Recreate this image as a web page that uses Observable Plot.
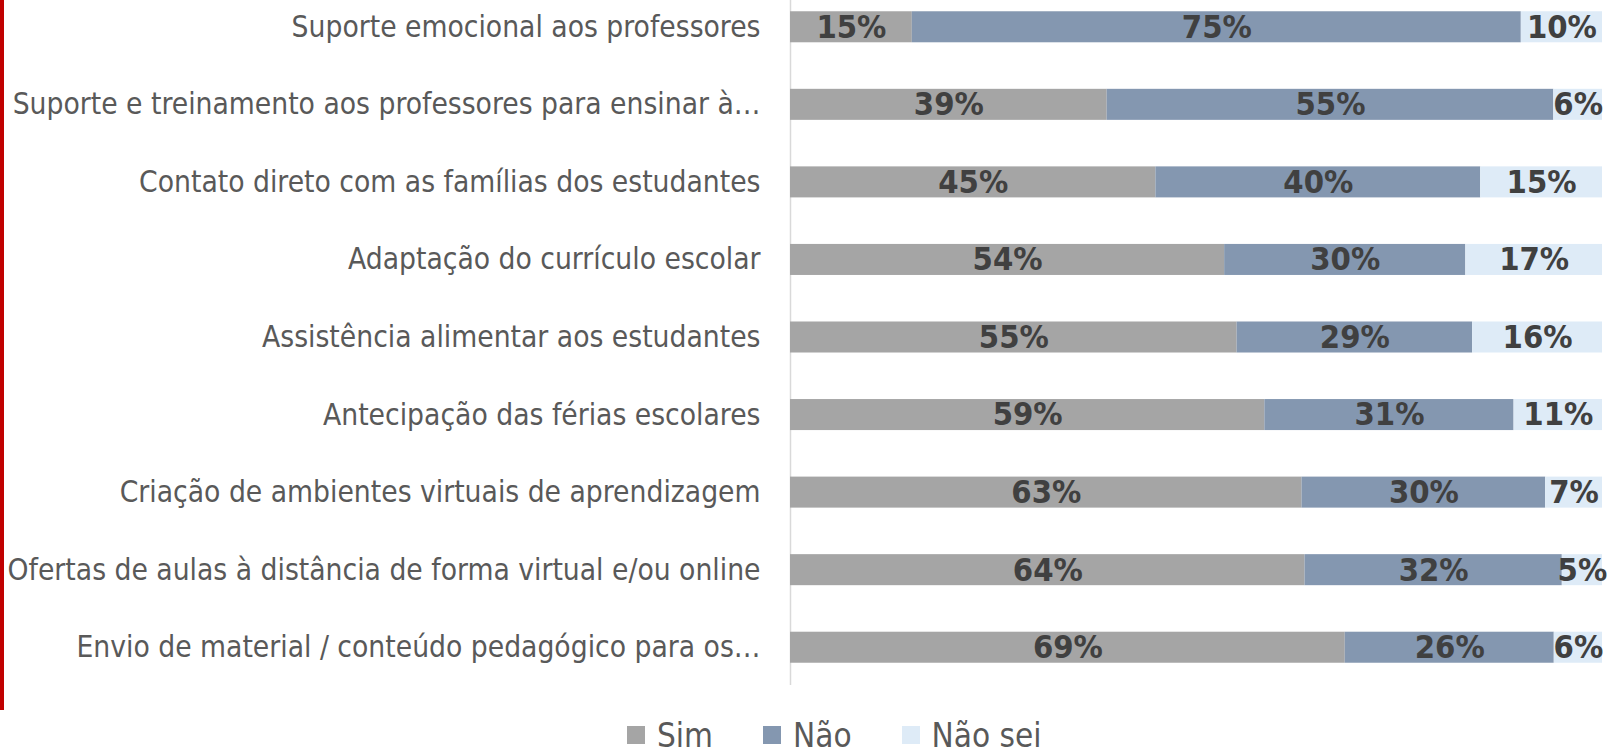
<!DOCTYPE html>
<html>
<head>
<meta charset="utf-8">
<script src="https://cdn.jsdelivr.net/npm/d3@7"></script>
<script src="https://cdn.jsdelivr.net/npm/@observablehq/plot@0.6"></script>
<style>
  body { margin: 0; background: #fff; }
  #wrap { position: relative; width: 1614px; height: 754px; background: #fff; }
  #redline { position: absolute; left: 0; top: 0; width: 4px; height: 710px; background: #c00000; }
  #chart { position: absolute; left: 0; top: 0; }
  #legend { position: absolute; left: 627px; top: 718px; height: 34px; display: flex; align-items: center; color: #595959; line-height: 1; }
  .item { display: flex; align-items: center; margin-right: 50px; }
  .sw { width: 18px; height: 18px; margin-right: 12px; }
</style>
</head>
<body>
<div id="wrap">
  <div id="redline"></div>
  <div id="chart"></div>
  <div id="legend"></div>
</div>
<script>
const categories = [
  "Suporte emocional aos professores",
  "Suporte e treinamento aos professores para ensinar à…",
  "Contato direto com as famílias dos estudantes",
  "Adaptação do currículo escolar",
  "Assistência alimentar aos estudantes",
  "Antecipação das férias escolares",
  "Criação de ambientes virtuais de aprendizagem",
  "Ofertas de aulas à distância de forma virtual e/ou online",
  "Envio de material / conteúdo pedagógico para os…"
];
const series = ["Sim", "Não", "Não sei"];
const sim    = [15, 39, 45, 54, 55, 59, 63, 64, 69];
const nao    = [75, 55, 40, 30, 29, 31, 30, 32, 26];
const naoSei = [10,  6, 15, 17, 16, 11,  7,  5,  6];
const colors = ["#a5a5a5", "#8497b0", "#deebf7"];

const seriesValues = [sim, nao, naoSei];
const data = [];
categories.forEach((c, i) => {
  series.forEach((s, j) => data.push({cat: c, serie: s, value: seriesValues[j][i]}));
});

// font detection & sizing
const ctx = document.createElement("canvas").getContext("2d");
function w(text, font) { ctx.font = font; return ctx.measureText(text).width; }
function hasFont(name) {
  const t = "mmmmmmmmmmlliWWW0123";
  return w(t, `40px "${name}", monospace`) !== w(t, "40px monospace") ||
         w(t, `40px "${name}", serif`) !== w(t, "40px serif");
}
const candidates = ["Liberation Sans Narrow", "DejaVu Sans Condensed", "Roboto", "Lato"];
const font = candidates.find(hasFont) || "sans-serif";
const ff = `"${font}", sans-serif`;
const labelSize = Math.min(30, 100 * 469 / w(categories[0], `100px ${ff}`));
const valueSize = Math.min(36, 100 * 70 / w("75%", `bold 100px ${ff}`));
const legendSize = Math.min(33, 100 * 115 / w("Não sei", `100px ${ff}`));

const chart = Plot.plot({
  width: 1614,
  height: 700,
  marginLeft: 790,
  marginRight: 12,
  marginTop: 0,
  marginBottom: 15,
  style: {fontFamily: ff, background: "transparent"},
  x: {domain: [0, 1], axis: null},
  y: {domain: categories, range: [-12, 686], paddingInner: 0.6, paddingOuter: 0.3, round: false, label: null, axis: null},
  color: {domain: series, range: colors},
  marks: [
    Plot.ruleX([0], {stroke: "#d9d9d9", strokeWidth: 1.5}),
    Plot.barX(data, Plot.stackX({offset: "normalize", x: "value", y: "cat", fill: "serie"})),
    Plot.axisY({tickSize: 0, tickPadding: 30, fontSize: labelSize, color: "#595959", label: null}),
    Plot.text(data, Plot.stackX({
      offset: "normalize", x: "value", y: "cat", z: "serie",
      text: d => d.value + "%", fill: "#404040", fontWeight: "bold", fontSize: valueSize
    }))
  ]
});
document.getElementById("chart").appendChild(chart);

const legend = document.getElementById("legend");
legend.style.fontFamily = ff;
legend.style.fontSize = legendSize + "px";
series.forEach((s, i) => {
  const it = document.createElement("div");
  it.className = "item";
  const sw = document.createElement("div");
  sw.className = "sw";
  sw.style.background = colors[i];
  const tx = document.createElement("span");
  tx.textContent = s;
  it.appendChild(sw); it.appendChild(tx);
  legend.appendChild(it);
});
</script>
</body>
</html>
